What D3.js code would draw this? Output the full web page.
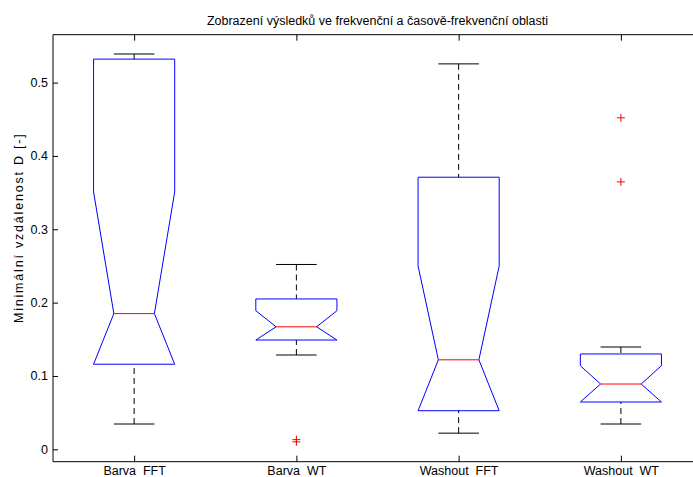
<!DOCTYPE html>
<html>
<head>
<meta charset="utf-8">
<script src="https://cdn.jsdelivr.net/npm/d3@7"></script>
<style>
  html, body { margin: 0; padding: 0; background: #fff; overflow: hidden; }
  svg { display: block; }
  text { font-family: "Liberation Sans", Arial, Helvetica, sans-serif; }
</style>
</head>
<body>
<script>
// ---- data ----
const categories   = ["Barva_FFT", "Barva_WT", "Washout_FFT", "Washout_WT"];
const upperWhisker = [0.539, 0.252, 0.5255, 0.1395];
const q3           = [0.532, 0.205, 0.371, 0.130];
const notchHigh    = [0.351, 0.189, 0.250, 0.114];
const medians      = [0.185, 0.167, 0.122, 0.089];
const notchLow     = [0.116, 0.149, 0.0526, 0.0645];
const q1           = [0.116, 0.149, 0.0526, 0.0645];
const lowerWhisker = [0.0345, 0.1286, 0.022, 0.0345];
const outliers     = [[], [0.0102, 0.0132], [], [0.452, 0.3646]];
const yTicks       = [0, 0.1, 0.2, 0.3, 0.4, 0.5];
const yTickLabels  = ["0", "0.1", "0.2", "0.3", "0.4", "0.5"];
const titleText    = "Zobrazení výsledků ve frekvenční a časově-frekvenční oblasti";
const yLabelText   = "Minimální vzdálenost D [-]";

// ---- layout ----
const W = 693, H = 477;
const mLeft = 53, mRight = 702, mTop = 34.7, mBottom = 461.7;
const fontSize = 12.5;

const svg = d3.select("body").append("svg").attr("width", W).attr("height", H);

const x = d3.scaleLinear().domain([0.5, 4.5]).range([mLeft, mRight]);
const y = d3.scaleLinear().domain([-0.0169, 0.5653]).range([mBottom, mTop]);

const boxHalf = 0.25, notchHalf = 0.125;

// ---- boxes ----
const g = svg.append("g");
categories.forEach((c, i) => {
  const p = i + 1;
  const L = x(p - boxHalf), R = x(p + boxHalf);
  const nL = x(p - notchHalf), nR = x(p + notchHalf);
  // whiskers (dashed)
  g.append("line").attr("x1", x(p)).attr("x2", x(p))
    .attr("y1", y(upperWhisker[i])).attr("y2", y(q3[i]))
    .attr("stroke", "#000").attr("stroke-width", 1).attr("stroke-dasharray", "6,4");
  g.append("line").attr("x1", x(p)).attr("x2", x(p))
    .attr("y1", y(lowerWhisker[i])).attr("y2", y(q1[i]))
    .attr("stroke", "#000").attr("stroke-width", 1).attr("stroke-dasharray", "6,4");
  // caps
  [upperWhisker[i], lowerWhisker[i]].forEach(v => {
    g.append("line").attr("x1", nL).attr("x2", nR)
      .attr("y1", y(v)).attr("y2", y(v))
      .attr("stroke", "#000").attr("stroke-width", 1);
  });
  // notched box
  const pts = [
    [L, y(q1[i])], [L, y(notchLow[i])], [nL, y(medians[i])], [L, y(notchHigh[i])], [L, y(q3[i])],
    [R, y(q3[i])], [R, y(notchHigh[i])], [nR, y(medians[i])], [R, y(notchLow[i])], [R, y(q1[i])]
  ];
  g.append("path").attr("d", d3.line()(pts) + "Z")
    .attr("fill", "none").attr("stroke", "#0000ff").attr("stroke-width", 1);
  // median
  g.append("line").attr("x1", nL).attr("x2", nR)
    .attr("y1", y(medians[i])).attr("y2", y(medians[i]))
    .attr("stroke", "#ff0000").attr("stroke-width", 1);
  // outliers
  outliers[i].forEach(v => {
    const cx = x(p), cy = y(v), s = 4;
    g.append("path").attr("d", `M${cx - s},${cy}H${cx + s}M${cx},${cy - s}V${cy + s}`)
      .attr("stroke", "#ff0000").attr("stroke-width", 1).attr("fill", "none");
  });
});

// ---- axes ----
const styleAxis = sel => {
  sel.selectAll(".domain").attr("stroke", "#000");
  sel.selectAll(".tick line").attr("stroke", "#000");
  sel.selectAll("text").attr("fill", "#000").style("font-size", fontSize + "px")
    .style("font-family", '"Liberation Sans", Arial, sans-serif');
};

const yAxis = d3.axisLeft(y).tickValues(yTicks)
  .tickFormat((d, i) => yTickLabels[i]).tickSizeInner(-5).tickSizeOuter(0).tickPadding(5);
svg.append("g").attr("transform", `translate(${mLeft},0)`).call(yAxis).call(styleAxis)
  .select(".domain").attr("d", `M0,${mTop}V${mBottom}`);

const yAxisR = d3.axisRight(y).tickValues(yTicks).tickFormat("").tickSizeInner(-5).tickSizeOuter(0);
svg.append("g").attr("transform", `translate(${mRight},0)`).call(yAxisR).call(styleAxis)
  .select(".domain").attr("d", `M0,${mTop}V${mBottom}`);

const xAxis = d3.axisBottom(x).tickValues([1, 2, 3, 4])
  .tickFormat((d, i) => categories[i]).tickSizeInner(-6).tickSizeOuter(0).tickPadding(4);
svg.append("g").attr("transform", `translate(0,${mBottom})`).call(xAxis).call(styleAxis)
  .select(".domain").attr("d", `M${mLeft},0H${mRight}`);

const xAxisT = d3.axisTop(x).tickValues([1, 2, 3, 4]).tickFormat("").tickSizeInner(-6).tickSizeOuter(0);
svg.append("g").attr("transform", `translate(0,${mTop})`).call(xAxisT).call(styleAxis)
  .select(".domain").attr("d", `M${mLeft},0H${mRight}`);

// ---- title & label ----
svg.append("text").attr("x", (mLeft + mRight) / 2).attr("y", 25)
  .attr("text-anchor", "middle").style("font-size", fontSize + "px").attr("fill", "#000")
  .text(titleText);

svg.append("text")
  .attr("transform", `translate(23,323) rotate(-90)`)
  .attr("text-anchor", "start").style("font-size", fontSize + "px")
  .style("letter-spacing", "1.8px").attr("fill", "#000")
  .text(yLabelText);
</script>
</body>
</html>
